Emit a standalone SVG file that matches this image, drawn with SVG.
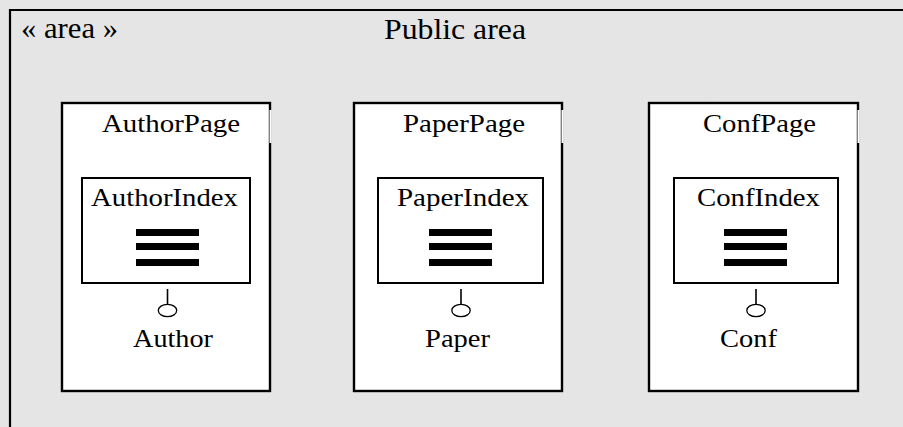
<svg xmlns="http://www.w3.org/2000/svg" width="903" height="427" viewBox="0 0 903 427">
  <style>
    .area { fill: #e5e5e5; stroke: #000; stroke-width: 2.2; }
    .page { fill: #fff; stroke: #000; stroke-width: 2.4; }
    .index { fill: #fff; stroke: #000; stroke-width: 2; }
    .bar { fill: #000; }
    .stem { stroke: #000; stroke-width: 1.6; fill: none; }
    .iface { fill: #fff; stroke: #000; stroke-width: 1.3; }
    .lbl { font-family: "Liberation Serif", "Times New Roman", serif; font-size: 26px; fill: #000; }
    .big { font-size: 30px; }
  </style>
  <defs>
    <!-- three-bar "list" glyph used inside each index -->
    <g id="bars">
      <rect class="bar" x="0" y="0" width="63" height="7"/>
      <rect class="bar" x="0" y="14" width="63" height="7"/>
      <rect class="bar" x="0" y="30" width="63" height="7"/>
    </g>
  </defs>

  <!-- background area container -->
  <g id="public-area">
    <rect width="903" height="427" fill="#e5e5e5"/>
    <path class="area" d="M10,427 V10 H903" fill="none"/>
    <text class="lbl big" x="21" y="38" textLength="97" lengthAdjust="spacingAndGlyphs">« area »</text>
    <text class="lbl big" x="384" y="39" textLength="142" lengthAdjust="spacingAndGlyphs">Public area</text>
  </g>

  <g id="AuthorPage">
    <rect class="page" x="62" y="103" width="208" height="288"/>
    <rect x="269.5" y="110" width="2" height="33" fill="#fff"/>
    <text class="lbl" x="102" y="132" textLength="138" lengthAdjust="spacingAndGlyphs">AuthorPage</text>
  </g>
  <g id="AuthorIndex">
    <rect class="index" x="82" y="178" width="168" height="105"/>
    <text class="lbl" x="91" y="206" textLength="147" lengthAdjust="spacingAndGlyphs">AuthorIndex</text>
    <use href="#bars" x="136" y="229"/>
  </g>
  <g id="Author">
    <ellipse class="iface" cx="167.5" cy="310.5" rx="9.2" ry="6.2"/>
    <text class="lbl" x="133" y="347" textLength="80" lengthAdjust="spacingAndGlyphs">Author</text>
  </g>

  <g id="PaperPage">
    <rect class="page" x="354" y="103" width="208" height="288"/>
    <rect x="561.5" y="110" width="2" height="33" fill="#fff"/>
    <text class="lbl" x="403" y="132" textLength="122" lengthAdjust="spacingAndGlyphs">PaperPage</text>
  </g>
  <g id="PaperIndex">
    <rect class="index" x="378" y="178" width="165" height="105"/>
    <text class="lbl" x="397" y="206" textLength="132" lengthAdjust="spacingAndGlyphs">PaperIndex</text>
    <use href="#bars" x="429" y="229"/>
  </g>
  <g id="Paper">
    <ellipse class="iface" cx="461" cy="310.5" rx="9.2" ry="6.2"/>
    <text class="lbl" x="425" y="347" textLength="65" lengthAdjust="spacingAndGlyphs">Paper</text>
  </g>

  <g id="ConfPage">
    <rect class="page" x="649" y="103" width="209" height="288"/>
    <rect x="857.5" y="110" width="2" height="33" fill="#fff"/>
    <text class="lbl" x="703" y="132" textLength="113" lengthAdjust="spacingAndGlyphs">ConfPage</text>
  </g>
  <g id="ConfIndex">
    <rect class="index" x="674" y="178" width="164" height="105"/>
    <text class="lbl" x="697" y="206" textLength="123" lengthAdjust="spacingAndGlyphs">ConfIndex</text>
    <use href="#bars" x="724" y="229"/>
  </g>
  <g id="Conf">
    <ellipse class="iface" cx="756" cy="310.5" rx="9.2" ry="6.2"/>
    <text class="lbl" x="720" y="347" textLength="57" lengthAdjust="spacingAndGlyphs">Conf</text>
  </g>

  <!-- interface stems from each index down to its lollipop -->
  <g id="connectors">
    <line class="stem" x1="167.5" y1="289" x2="167.5" y2="304.3"/>
    <line class="stem" x1="461" y1="289" x2="461" y2="304.3"/>
    <line class="stem" x1="756" y1="289" x2="756" y2="304.3"/>
  </g>
</svg>
